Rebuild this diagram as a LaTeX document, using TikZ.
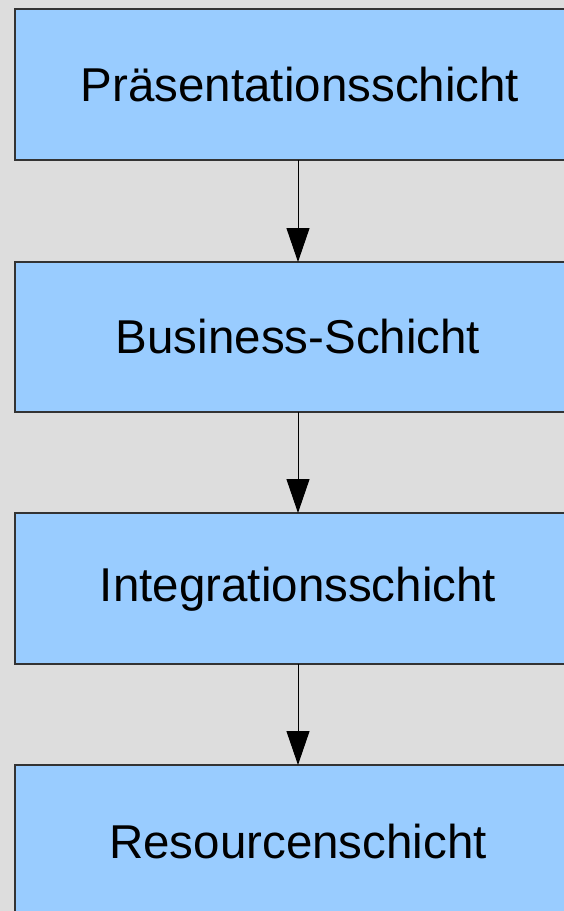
\documentclass[tikz,border=0pt]{standalone}
\usepackage{fontspec}
\setmainfont{Liberation Sans}
\usetikzlibrary{arrows.meta}
\definecolor{pagebg}{HTML}{DDDDDD}
\definecolor{layerfill}{HTML}{99CCFF}
\definecolor{layerline}{HTML}{333333}
\tikzset{
  layer/.style={draw=layerline, line width=1.2pt, fill=layerfill},
  layertext/.style={font=\fontsize{47.5}{50}\selectfont, text=black, inner sep=0pt, anchor=center},
  flow/.style={draw=black, line width=1pt, -{Triangle[length=34pt,width=23pt]}}
}
\begin{document}
\begin{tikzpicture}[x=1pt,y=1pt]
  \useasboundingbox (0,0) rectangle (564,-911);
  \fill[pagebg] (0,0) rectangle (564,-911);
  \begin{scope}
    \clip (0,0) rectangle (564,-911);
    % the four layers
    \draw[layer] (15,-9) rectangle (583,-160);
    \draw[layer] (15,-262) rectangle (583,-412);
    \draw[layer] (15,-513) rectangle (583,-664);
    \draw[layer] (15,-765) rectangle (583,-930);
  \end{scope}
  \node[layertext] (p) at (300,-85) {Präsentationsschicht};
  \node[layertext] (b) at (298,-337) {Business-Schicht};
  \node[layertext] (i) at (298,-589) {Integrationsschicht};
  \node[layertext] (r) at (298,-842) {Resourcenschicht};
  % connection points on the layer edges
  \coordinate (p-out) at (298,-160);
  \coordinate (b-in) at (298,-262);
  \coordinate (b-out) at (298,-412);
  \coordinate (i-in) at (298,-513);
  \coordinate (i-out) at (298,-664);
  \coordinate (r-in) at (298,-765);
  \draw[flow] (p-out) -- (b-in);
  \draw[flow] (b-out) -- (i-in);
  \draw[flow] (i-out) -- (r-in);
\end{tikzpicture}
\end{document}
